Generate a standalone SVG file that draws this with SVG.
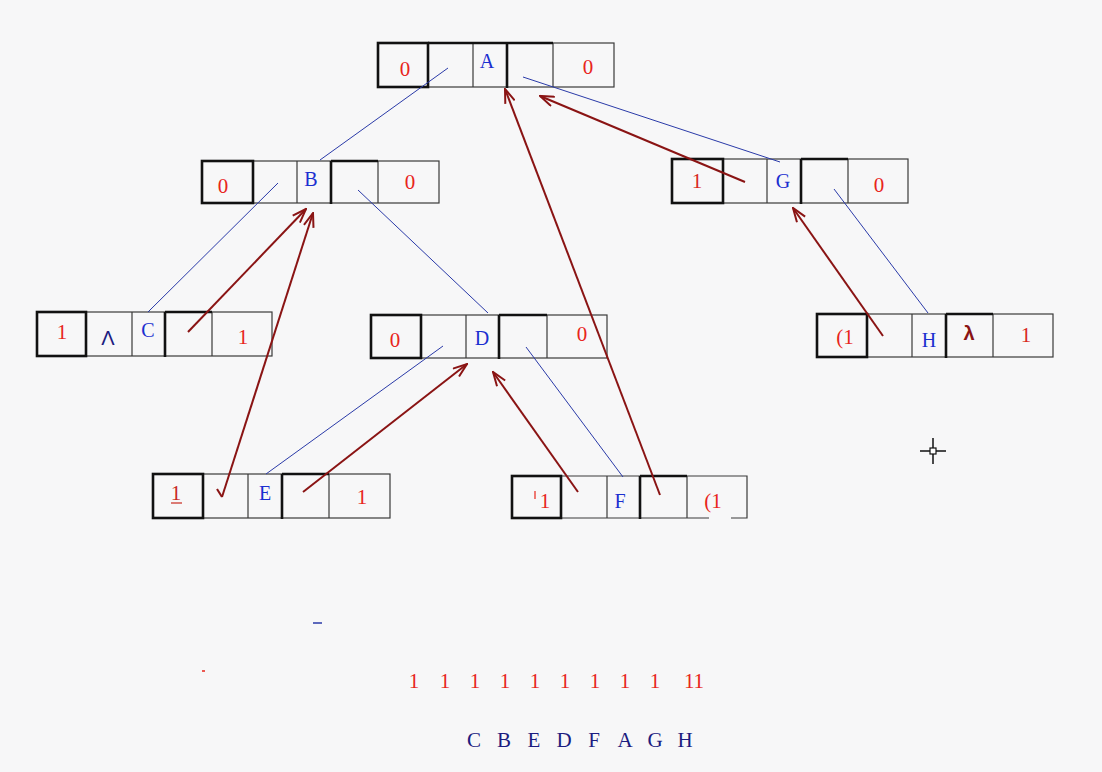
<svg xmlns="http://www.w3.org/2000/svg" width="1102" height="772" viewBox="0 0 1102 772">
<defs>
<style>
.bg{fill:#f7f7f8}
.cell{fill:none;stroke:#3a3a3a;stroke-width:1.2}
.thick{fill:none;stroke:#111;stroke-width:2.6}
.num{font-family:"Liberation Serif",serif;font-size:21px;fill:#e8251b;text-anchor:middle}
.let{font-family:"Liberation Serif",serif;font-size:20px;fill:#1b2fd0;text-anchor:middle}
.link{stroke:#2a3aa8;stroke-width:1;fill:none}
.thr{stroke:#8a1414;stroke-width:2;fill:none;marker-end:url(#ah)}
.bot{font-family:"Liberation Serif",serif;font-size:21px;text-anchor:middle}
</style>
<marker id="ah" viewBox="0 0 16 12" refX="15" refY="6" markerWidth="16" markerHeight="12" markerUnits="userSpaceOnUse" orient="auto">
<path d="M1,1 L15,6 L1,11" fill="none" stroke="#8a1414" stroke-width="2"/>
</marker>
</defs>
<rect class="bg" x="0" y="0" width="1102" height="772"/>

<g id="node-A">
<rect class="cell" x="378" y="43" width="236" height="44"/>
<path class="cell" d="M428,43V87M473,43V87M553,43V87"/>
<rect class="thick" x="378" y="43" width="50" height="44"/>
<path class="thick" d="M428,43H553M507,43V88"/>
<text class="num" x="405" y="76">0</text>
<text class="let" x="487" y="68">A</text>
<text class="num" x="588" y="74">0</text>
</g>

<g id="node-B">
<rect class="cell" x="202" y="161" width="237" height="42"/>
<path class="cell" d="M253,161V203M297,161V203M378,161V203"/>
<rect class="thick" x="202" y="161" width="51" height="42"/>
<path class="thick" d="M331,161H378M331,161V204"/>
<text class="num" x="223" y="193">0</text>
<text class="let" x="311" y="186">B</text>
<text class="num" x="410" y="189">0</text>
</g>

<g id="node-C">
<rect class="cell" x="37" y="312" width="235" height="44"/>
<path class="cell" d="M86,312V356M132,312V356M212,312V356"/>
<rect class="thick" x="37" y="312" width="49" height="44"/>
<path class="thick" d="M165,312H212M165,312V357"/>
<text class="num" x="62" y="339">1</text>
<text class="let" x="108" y="345" style="fill:#1c1c80;font-family:'Liberation Sans',sans-serif">Λ</text>
<text class="let" x="148" y="337">C</text>
<text class="num" x="243" y="344">1</text>
</g>

<g id="node-D">
<rect class="cell" x="371" y="315" width="236" height="43"/>
<path class="cell" d="M421,315V358M466,315V358M547,315V358"/>
<rect class="thick" x="371" y="315" width="50" height="43"/>
<path class="thick" d="M499,315H547M499,315V359"/>
<text class="num" x="395" y="347">0</text>
<text class="let" x="482" y="345">D</text>
<text class="num" x="582" y="341">0</text>
</g>

<g id="node-E">
<rect class="cell" x="153" y="474" width="237" height="44"/>
<path class="cell" d="M203,474V518M248,474V518M329,474V518"/>
<rect class="thick" x="153" y="474" width="50" height="44"/>
<path class="thick" d="M282,474H329M282,474V519"/>
<text class="num" x="176" y="500" style="fill:#c8281e">1</text>
<path d="M171,503H182" stroke="#c8281e" stroke-width="1.2"/>
<text class="let" x="265" y="500">E</text>
<text class="num" x="362" y="504">1</text>
</g>

<g id="node-F">
<path class="cell" d="M512,476H747V518H731M709,518H512M561,476V518M607,476V518M687,476V518"/>
<rect class="thick" x="512" y="476" width="49" height="42"/>
<path class="thick" d="M640,476H687M640,476V519"/>
<path d="M535,491V499" stroke="#e8251b" stroke-width="1.2"/>
<text class="num" x="545" y="508">1</text>
<text class="let" x="620" y="508">F</text>
<text class="num" x="713" y="508">(1</text>
</g>

<g id="node-G">
<rect class="cell" x="672" y="159" width="236" height="44"/>
<path class="cell" d="M723,159V203M767,159V203M848,159V203"/>
<rect class="thick" x="672" y="159" width="51" height="44"/>
<path class="thick" d="M801,159H848M801,159V204"/>
<text class="num" x="697" y="188" style="fill:#d8281c">1</text>
<text class="let" x="783" y="188">G</text>
<text class="num" x="879" y="192">0</text>
</g>

<g id="node-H">
<rect class="cell" x="817" y="314" width="236" height="43"/>
<path class="cell" d="M867,314V357M912,314V357M993,314V357"/>
<rect class="thick" x="817" y="314" width="50" height="43"/>
<path class="thick" d="M946,314H993M946,314V358"/>
<text class="num" x="845" y="344">(1</text>
<text class="let" x="929" y="347">H</text>
<text class="let" x="969" y="340" style="fill:#8a1414;font-family:'Liberation Sans',sans-serif;font-weight:bold">λ</text>
<text class="num" x="1026" y="342" style="fill:#d8281c">1</text>
</g>

<g id="connectors">
<path class="link" d="M448,68L320,160"/>
<path class="link" d="M523,77L780,162"/>
<path class="link" d="M278,183L148,312"/>
<path class="link" d="M358,190L488,313"/>
<path class="link" d="M443,346L266,474"/>
<path class="link" d="M526,347L623,477"/>
<path class="link" d="M834,189L928,313"/>
<path class="thr" d="M188,332L306,209"/>
<path class="thr" d="M222,497L313,213"/>
<path d="M222,497L217,489" stroke="#8a1414" stroke-width="2" fill="none"/>
<path class="thr" d="M303,492L467,364"/>
<path class="thr" d="M578,492L493,372"/>
<path class="thr" d="M660,495L505,89"/>
<path class="thr" d="M745,182L540,96"/>
<path class="thr" d="M883,336L793,208"/>
</g>

<g id="marks">
<path d="M313,623H322" stroke="#2a3aa8" stroke-width="1.5"/>
<path d="M202,671H205" stroke="#e8251b" stroke-width="1.5"/>
<path d="M933,438V464M920,451H946" stroke="#111" stroke-width="1.5"/>
<rect x="930" y="448" width="6" height="6" fill="#fff" stroke="#111" stroke-width="1.2"/>
</g>

<g id="sequence">
<text class="bot" style="fill:#e8251b" x="414" y="688">1</text>
<text class="bot" style="fill:#e8251b" x="445" y="688">1</text>
<text class="bot" style="fill:#e8251b" x="475" y="688">1</text>
<text class="bot" style="fill:#e8251b" x="505" y="688">1</text>
<text class="bot" style="fill:#e8251b" x="535" y="688">1</text>
<text class="bot" style="fill:#e8251b" x="565" y="688">1</text>
<text class="bot" style="fill:#e8251b" x="595" y="688">1</text>
<text class="bot" style="fill:#e8251b" x="625" y="688">1</text>
<text class="bot" style="fill:#e8251b" x="655" y="688">1</text>
<text class="bot" style="fill:#e8251b" x="694" y="688">11</text>
<text class="bot" style="fill:#1c1c80" x="474" y="747">C</text>
<text class="bot" style="fill:#1c1c80" x="504" y="747">B</text>
<text class="bot" style="fill:#1c1c80" x="534" y="747">E</text>
<text class="bot" style="fill:#1c1c80" x="564" y="747">D</text>
<text class="bot" style="fill:#1c1c80" x="594" y="747">F</text>
<text class="bot" style="fill:#1c1c80" x="625" y="747">A</text>
<text class="bot" style="fill:#1c1c80" x="655" y="747">G</text>
<text class="bot" style="fill:#1c1c80" x="685" y="747">H</text>
</g>
</svg>
